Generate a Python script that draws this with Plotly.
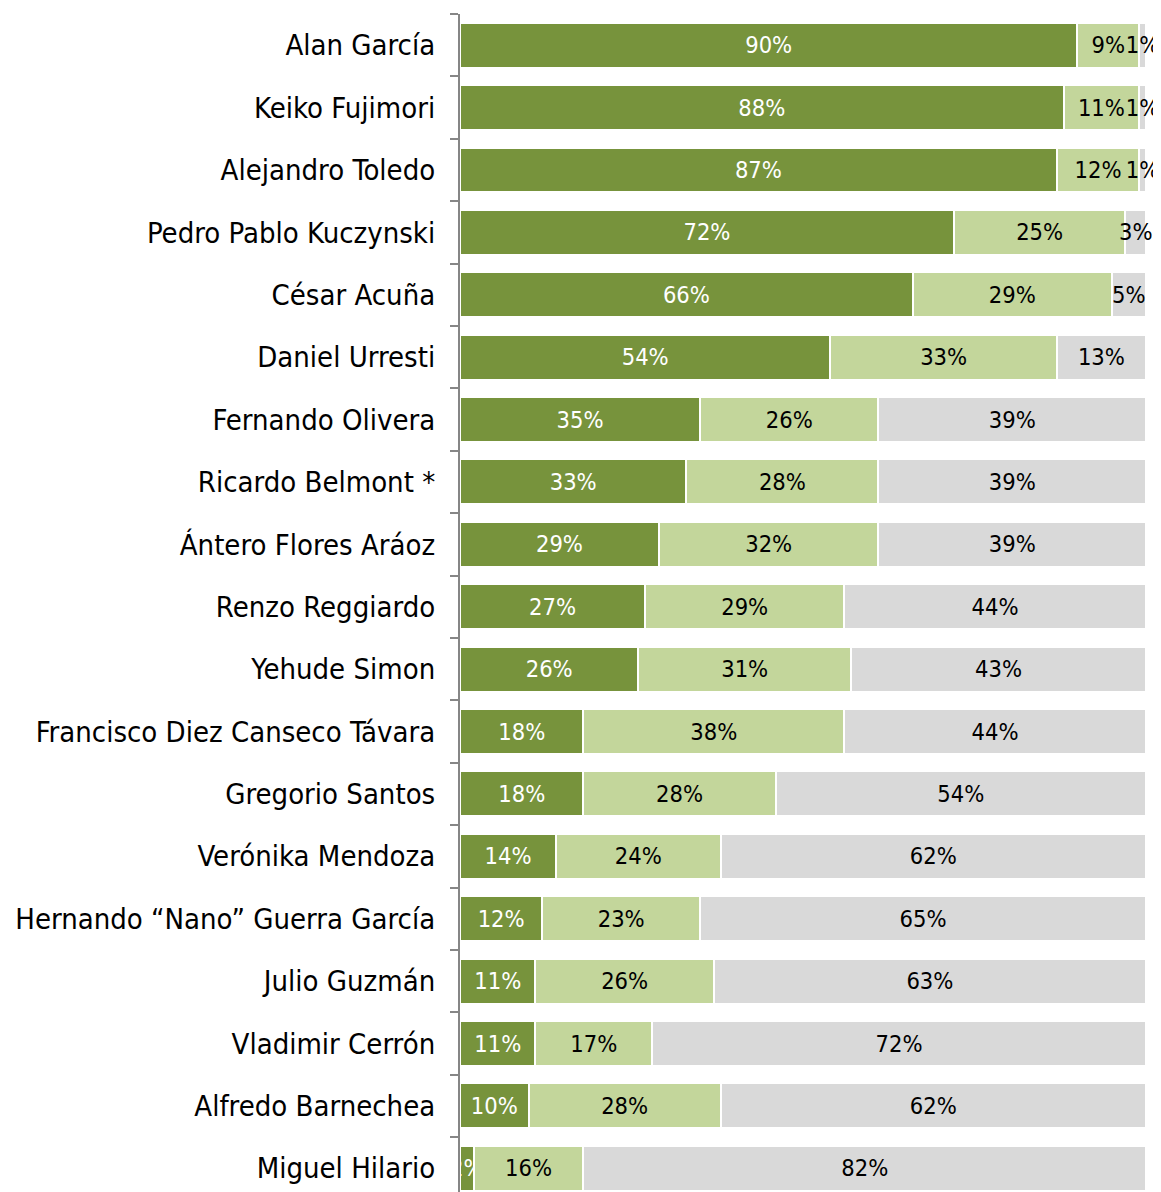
import plotly.graph_objects as go

candidates = [
    "Alan García", "Keiko Fujimori", "Alejandro Toledo", "Pedro Pablo Kuczynski",
    "César Acuña", "Daniel Urresti", "Fernando Olivera", "Ricardo Belmont *",
    "Ántero Flores Aráoz", "Renzo Reggiardo", "Yehude Simon",
    "Francisco Diez Canseco Távara", "Gregorio Santos", "Verónika Mendoza",
    "Hernando “Nano” Guerra García", "Julio Guzmán", "Vladimir Cerrón",
    "Alfredo Barnechea", "Miguel Hilario",
]
serie_1 = [90, 88, 87, 72, 66, 54, 35, 33, 29, 27, 26, 18, 18, 14, 12, 11, 11, 10, 2]
serie_2 = [9, 11, 12, 25, 29, 33, 26, 28, 32, 29, 31, 38, 28, 24, 23, 26, 17, 28, 16]
serie_3 = [1, 1, 1, 3, 5, 13, 39, 39, 39, 44, 43, 44, 54, 62, 65, 63, 72, 62, 82]

FONT = "DejaVu Sans Condensed"
FS = 29
NFS = 23.5

fig = go.Figure()
for vals, color, tcolor in [
    (serie_1, "#77933C", "white"),
    (serie_2, "#C3D69B", "black"),
    (serie_3, "#D9D9D9", "black"),
]:
    fig.add_trace(go.Bar(
        y=candidates, x=vals, orientation="h",
        marker=dict(color=color, line=dict(color="white", width=2)),
        text=[f"{v}%" for v in vals], texttemplate="%{text}",
        textposition="inside", insidetextanchor="middle", textangle=0,
        textfont=dict(family=FONT, size=NFS, color=tcolor),
        cliponaxis=False, hoverinfo="skip",
    ))

# page body adds an 8px offset, so the figure is sized to fit the window
fig.update_layout(
    barmode="stack", bargap=0.28, showlegend=False,
    width=1153, height=1184,
    margin=dict(l=452, r=15, t=6, b=0),
    paper_bgcolor="white", plot_bgcolor="white",
    uniformtext=dict(minsize=NFS, mode="show"),
    font=dict(family=FONT, size=FS, color="black"),
)
fig.update_xaxes(range=[0, 100], visible=False, showgrid=False)
fig.update_yaxes(
    categoryorder="array", categoryarray=candidates,
    range=[18.38, -0.5], showgrid=False,
    showline=True, linecolor="#868686", linewidth=2,
    ticks="outside", tickson="boundaries", ticklen=8, tickcolor="#868686", tickwidth=2,
    tickfont=dict(family=FONT, size=FS, color="black"),
    ticklabelstandoff=17,
)
fig.write_html("out.html")
